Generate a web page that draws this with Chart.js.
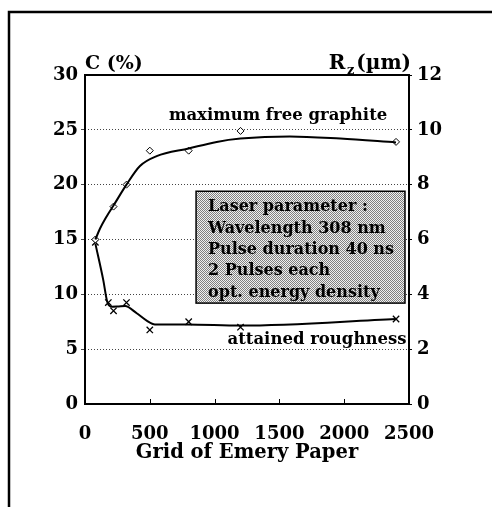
<!DOCTYPE html>
<html>
<head>
<meta charset="utf-8">
<script src="https://cdn.jsdelivr.net/npm/chart.js@4.4.1/dist/chart.umd.min.js"></script>
<style>
  body { margin: 0; background: #fff; }
  #wrap { width: 492px; height: 507px; }
</style>
</head>
<body>
<div id="wrap"><canvas id="chart" width="492" height="507"></canvas></div>
<script>
// measured points (grit of emery paper)
const graphiteGrit = [80, 220, 320, 500, 800, 1200, 2400];
const graphiteC = [15, 18, 20, 23.1, 23.1, 24.9, 23.9];          // C (%)
const roughGrit = [80, 180, 220, 320, 500, 800, 1200, 2400];
const roughRz = [5.9, 3.7, 3.4, 3.7, 2.7, 3.0, 2.8, 3.1];          // Rz (um)

// fitted curves
const graphiteFitGrit = [80, 116, 167, 220, 320, 424, 553, 800, 1016, 1200, 1580, 1970, 2400];
const graphiteFitC = [15, 16, 17.1, 18.1, 20, 21.7, 22.6, 23.3, 23.9, 24.2, 24.4, 24.2, 23.85];
const roughFitGrit = [80, 141, 172, 206, 260, 309, 399, 476, 540, 785, 1200, 2400];
const roughFitRz = [5.85, 4.52, 3.72, 3.55, 3.56, 3.57, 3.31, 3.04, 2.9, 2.9, 2.86, 3.1];

const xTicks = [0, 500, 1000, 1500, 2000, 2500];
const laserLines = ['Laser parameter :', 'Wavelength 308 nm', 'Pulse duration 40 ns', '2 Pulses each', 'opt. energy density'];

const FONT = "'DejaVu Serif'";
const pts = (xs, ys) => xs.map((x, i) => ({ x: x, y: ys[i] }));

// stipple for the parameter box
function stipple(ctx) {
    const c = document.createElement('canvas');
    c.width = 2; c.height = 2;
    const g = c.getContext('2d');
    g.fillStyle = '#f0f0f0'; g.fillRect(0, 0, 2, 2);
    g.fillStyle = '#808080'; g.fillRect(0, 0, 1, 1); g.fillRect(1, 1, 1, 1);
    return ctx.createPattern(c, 'repeat');
}

const extras = {
    id: 'extras',
    afterDatasetsDraw(chart) {
        const ctx = chart.ctx;
        const xs = chart.scales.x, ys = chart.scales.y, y2 = chart.scales.y2;
        const a = chart.chartArea;
        ctx.save();

        // parameter box
        const bx = xs.getPixelForValue(857), bw = xs.getPixelForValue(2469) - bx;
        const by = ys.getPixelForValue(19.4), bh = ys.getPixelForValue(9.2) - by;
        ctx.fillStyle = stipple(ctx);
        ctx.fillRect(bx, by, bw, bh);
        ctx.strokeStyle = '#000'; ctx.lineWidth = 1.5;
        ctx.strokeRect(bx, by, bw, bh);
        ctx.fillStyle = '#000';
        ctx.font = 'bold 16px ' + FONT;
        ctx.textBaseline = 'middle'; ctx.textAlign = 'left';
        laserLines.forEach((t, i) => ctx.fillText(t, bx + 12, by + 16 + i * 21.3));

        // curve labels
        ctx.font = 'bold 16.5px ' + FONT;
        ctx.textAlign = 'center';
        ctx.fillText('maximum free graphite', xs.getPixelForValue(1490), ys.getPixelForValue(26.25));
        ctx.fillText('attained roughness', xs.getPixelForValue(1790), y2.getPixelForValue(2.33));

        // axis names
        ctx.font = 'bold 19px ' + FONT;
        ctx.textBaseline = 'alphabetic';
        ctx.textAlign = 'left';
        ctx.fillText('C (%)', a.left, a.top - 6);
        ctx.textAlign = 'right';
        const rest = '(\u00b5m)';
        ctx.font = 'bold 20px ' + FONT;
        const wRest = ctx.measureText(rest).width;
        ctx.fillText(rest, a.right + 2, a.top - 6);
        ctx.font = 'bold 13px ' + FONT;
        ctx.fillText('z', a.right - wRest, a.top - 1);
        ctx.font = 'bold 20px ' + FONT;
        ctx.fillText('R', a.right - wRest - 9, a.top - 6);

        // plot frame
        ctx.strokeStyle = '#000';
        ctx.lineWidth = 2;
        ctx.strokeRect(a.left, a.top, a.right - a.left, a.bottom - a.top);

        // inward ticks on the bottom axis
        ctx.lineWidth = 1;
        xTicks.slice(1, -1).forEach(v => {
            const px = Math.round(xs.getPixelForValue(v)) + 0.5;
            ctx.beginPath(); ctx.moveTo(px, a.bottom); ctx.lineTo(px, a.bottom - 5); ctx.stroke();
        });

        // outer figure frame (left and top only)
        ctx.lineWidth = 2.5;
        ctx.beginPath();
        ctx.moveTo(9, 507); ctx.lineTo(9, 12); ctx.lineTo(492, 12);
        ctx.stroke();
        ctx.restore();
    }
};

new Chart(document.getElementById('chart'), {
    type: 'line',
    data: {
        datasets: [
            { data: pts(graphiteFitGrit, graphiteFitC), yAxisID: 'y', borderColor: '#000', borderWidth: 2,
              pointRadius: 0, cubicInterpolationMode: 'monotone', fill: false },
            { data: pts(graphiteGrit, graphiteC), yAxisID: 'y', showLine: false, pointStyle: 'rectRot',
              pointRadius: 3.5, backgroundColor: '#fff', borderColor: '#000', borderWidth: 1 },
            { data: pts(roughFitGrit, roughFitRz), yAxisID: 'y2', borderColor: '#000', borderWidth: 2,
              pointRadius: 0, cubicInterpolationMode: 'monotone', fill: false },
            { data: pts(roughGrit, roughRz), yAxisID: 'y2', showLine: false, pointStyle: 'crossRot',
              pointRadius: 4.5, borderColor: '#000', borderWidth: 1.3 }
        ]
    },
    options: {
        responsive: false,
        animation: false,
        layout: { padding: { top: 75, left: 0, right: 0, bottom: 0 } },
        plugins: { legend: { display: false }, tooltip: { enabled: false } },
        scales: {
            x: {
                type: 'linear', min: 0, max: 2500,
                afterBuildTicks: s => { s.ticks = xTicks.map(v => ({ value: v })); },
                afterFit: s => { s.height = 103; },
                grid: { display: false },
                border: { display: false },
                ticks: { color: '#000', font: { family: FONT, size: 18, weight: 'bold' }, padding: 12, maxRotation: 0,
                         callback: v => String(v) },
                title: { display: true, text: 'Grid of Emery Paper', color: '#000',
                         font: { family: FONT, size: 19.5, weight: 'bold' }, padding: { top: 0, bottom: 42 } }
            },
            y: {
                position: 'left', min: 0, max: 30,
                afterFit: s => { s.width = 85; },
                ticks: { stepSize: 5, color: '#000', font: { family: FONT, size: 18, weight: 'bold' }, padding: 3 },
                grid: {
                    color: c => (c.tick.value === 0 || c.tick.value === 30) ? 'rgba(0,0,0,0)' : '#444',
                    lineWidth: 1, tickLength: 4, drawTicks: true
                },
                border: { display: false, dash: [1, 2] }
            },
            y2: {
                position: 'right', min: 0, max: 12,
                afterFit: s => { s.width = 83; },
                ticks: { stepSize: 2, color: '#000', font: { family: FONT, size: 18, weight: 'bold' }, padding: 5 },
                grid: { drawOnChartArea: false, drawTicks: true, tickLength: 3, color: '#000' },
                border: { display: false }
            }
        }
    },
    plugins: [extras]
});
</script>
</body>
</html>
